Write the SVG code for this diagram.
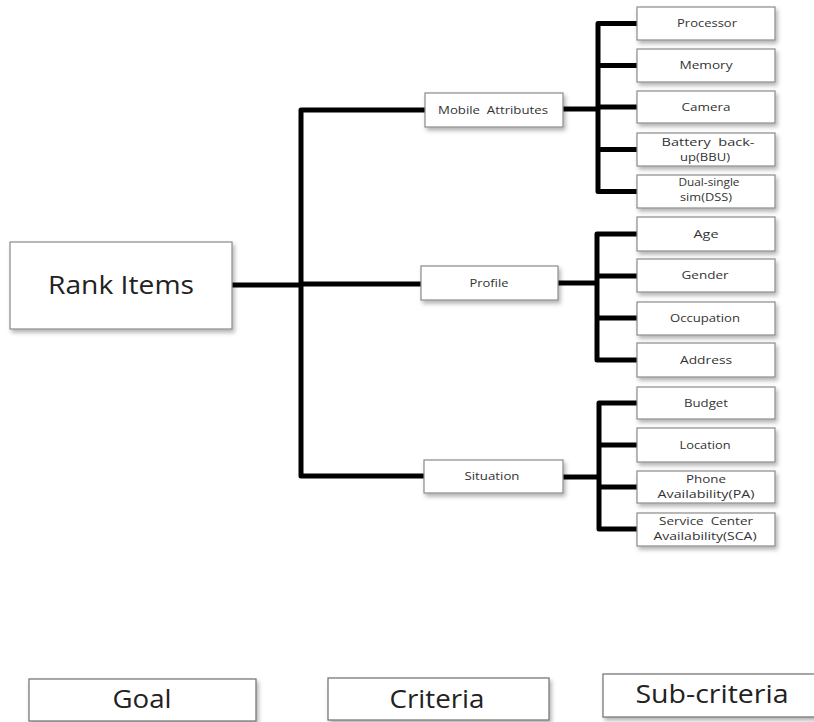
<svg xmlns="http://www.w3.org/2000/svg" width="814" height="722" viewBox="0 0 814 722">
<defs>
<filter id="sh" x="-10%" y="-20%" width="125%" height="160%">
<feDropShadow dx="2" dy="3" stdDeviation="2" flood-color="#000" flood-opacity="0.3"/>
</filter>
<style>
.box{fill:#fff;stroke:#8a8a8a;stroke-width:1.2;filter:url(#sh)}
.lb{fill:#fff;stroke:#6e6e6e;stroke-width:1.2;filter:url(#sh)}
.t{font-family:"Open Sans","Liberation Sans",sans-serif;font-size:10.5px;fill:#333;text-anchor:middle;white-space:pre}
.big{font-family:"Open Sans","Liberation Sans",sans-serif;font-size:25px;fill:#222;text-anchor:middle}
.c{fill:none;stroke:#000;stroke-width:5;stroke-linejoin:round}
</style>
</defs>
<rect width="814" height="722" fill="#fff"/>
<g id="connectors">
<path class="c" d="M232,285 H301"/>
<path class="c" d="M425,110 H301 V476 H424"/>
<path class="c" d="M301,284 H421"/>
<path class="c" d="M563,109 H598"/>
<path class="c" d="M637,23.5 H598 V191.5 H637"/>
<path class="c" d="M598,65.5 H637 M598,107 H637 M598,149.5 H637"/>
<path class="c" d="M558,283 H597"/>
<path class="c" d="M637,234 H597 V360 H637"/>
<path class="c" d="M597,276 H637 M597,318 H637"/>
<path class="c" d="M563,477 H599"/>
<path class="c" d="M637,403 H599 V529 H637"/>
<path class="c" d="M599,445 H637 M599,487 H637"/>
</g>
<g id="goal"><rect class="box" x="10" y="242" width="222" height="87"/><text class="big" x="121" y="294" textLength="146" lengthAdjust="spacingAndGlyphs">Rank Items</text></g>
<g id="mobile"><rect class="box" x="425" y="93" width="138" height="34"/><text class="t" x="493" y="114" textLength="110" lengthAdjust="spacingAndGlyphs">Mobile  Attributes</text></g>
<g id="profile"><rect class="box" x="421" y="266" width="137" height="34"/><text class="t" x="489" y="287" textLength="39" lengthAdjust="spacingAndGlyphs">Profile</text></g>
<g id="situation"><rect class="box" x="424" y="460" width="139" height="33"/><text class="t" x="492" y="480" textLength="55" lengthAdjust="spacingAndGlyphs">Situation</text></g>
<g id="processor"><rect class="box" x="637" y="7" width="138" height="33"/><text class="t" x="707" y="27" textLength="60" lengthAdjust="spacingAndGlyphs">Processor</text></g>
<g id="memory"><rect class="box" x="637" y="49" width="138" height="33"/><text class="t" x="706" y="69" textLength="53" lengthAdjust="spacingAndGlyphs">Memory</text></g>
<g id="camera"><rect class="box" x="637" y="91" width="138" height="32"/><text class="t" x="706" y="110.5" textLength="49" lengthAdjust="spacingAndGlyphs">Camera</text></g>
<g id="battery"><rect class="box" x="637" y="133" width="138" height="33"/><text class="t" x="708" y="145.5" textLength="93" lengthAdjust="spacingAndGlyphs">Battery  back-</text><text class="t" x="705" y="161" textLength="50" lengthAdjust="spacingAndGlyphs">up(BBU)</text></g>
<g id="dual"><rect class="box" x="637" y="175" width="138" height="33"/><text class="t" x="709" y="186" textLength="61" lengthAdjust="spacingAndGlyphs">Dual-single</text><text class="t" x="706" y="201" textLength="52" lengthAdjust="spacingAndGlyphs">sim(DSS)</text></g>
<g id="age"><rect class="box" x="637" y="217" width="138" height="34"/><text class="t" x="706" y="237.5" textLength="25" lengthAdjust="spacingAndGlyphs">Age</text></g>
<g id="gender"><rect class="box" x="637" y="259" width="138" height="33"/><text class="t" x="705" y="279" textLength="47" lengthAdjust="spacingAndGlyphs">Gender</text></g>
<g id="occupation"><rect class="box" x="637" y="302" width="138" height="33"/><text class="t" x="705" y="322" textLength="70" lengthAdjust="spacingAndGlyphs">Occupation</text></g>
<g id="address"><rect class="box" x="637" y="343" width="138" height="34"/><text class="t" x="706" y="363.5" textLength="52" lengthAdjust="spacingAndGlyphs">Address</text></g>
<g id="budget"><rect class="box" x="637" y="387" width="138" height="32"/><text class="t" x="706" y="406.5" textLength="44" lengthAdjust="spacingAndGlyphs">Budget</text></g>
<g id="location"><rect class="box" x="637" y="428" width="138" height="34"/><text class="t" x="705" y="448.5" textLength="51" lengthAdjust="spacingAndGlyphs">Location</text></g>
<g id="phone"><rect class="box" x="637" y="471" width="138" height="32"/><text class="t" x="706" y="483" textLength="40" lengthAdjust="spacingAndGlyphs">Phone</text><text class="t" x="706" y="498" textLength="97" lengthAdjust="spacingAndGlyphs">Availability(PA)</text></g>
<g id="service"><rect class="box" x="637" y="513" width="138" height="33"/><text class="t" x="706" y="525" textLength="94" lengthAdjust="spacingAndGlyphs">Service  Center</text><text class="t" x="705" y="540" textLength="103" lengthAdjust="spacingAndGlyphs">Availability(SCA)</text></g>
<g id="legend-goal"><rect class="lb" x="29" y="679" width="227" height="42"/><text class="big" x="142" y="708" textLength="59" lengthAdjust="spacingAndGlyphs">Goal</text></g>
<g id="legend-criteria"><rect class="lb" x="328" y="678" width="221" height="42"/><text class="big" x="437" y="708" textLength="95" lengthAdjust="spacingAndGlyphs">Criteria</text></g>
<g id="legend-sub"><rect class="lb" x="603" y="674" width="212" height="43"/><text class="big" x="712" y="703" textLength="153" lengthAdjust="spacingAndGlyphs">Sub-criteria</text></g>
</svg>
